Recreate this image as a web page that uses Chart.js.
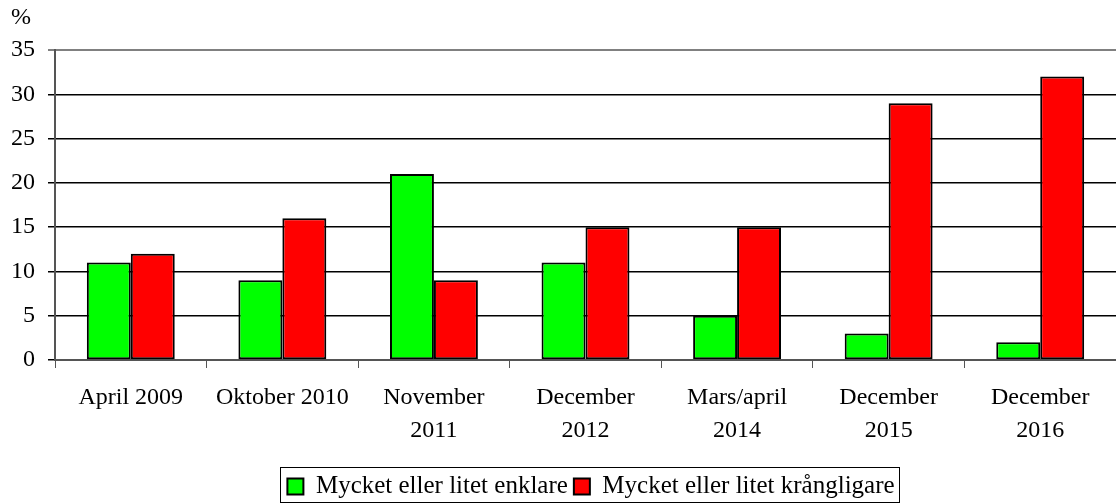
<!DOCTYPE html>
<html>
<head>
<meta charset="utf-8">
<script src="https://cdn.jsdelivr.net/npm/chart.js@4"></script>
<style>
  html, body { margin: 0; padding: 0; background: #fff; }
  #wrap { width: 1116px; height: 503px; position: relative; }
</style>
</head>
<body>
<div id="wrap"><canvas id="chart" width="1116" height="503"></canvas></div>
<script>
// Survey periods
const categories = [
  'April 2009',
  'Oktober 2010',
  ['November', '2011'],
  ['December', '2012'],
  ['Mars/april', '2014'],
  ['December', '2015'],
  ['December', '2016'],
];

// Share of respondents (%)
const simplerValues = [11, 9, 21, 11, 5, 3, 2];
const harderValues = [12, 16, 9, 15, 15, 29, 32];

const yTicks = [0, 5, 10, 15, 20, 25, 30, 35];

const FONT = 'Liberation Serif';

/**
 * Draws the "%" unit above the y axis and a frame around the legend
 */
const extrasPlugin = {
  id: 'extras',
  afterLayout(chart) {
    // legend sits a bit right of centre in the original
    if (chart.legend) {
      chart.legend.left += 33;
      chart.legend.right += 33;
    }
  },
  afterDraw(chart) {
    const { ctx } = chart;
    ctx.save();
    ctx.fillStyle = '#000';
    ctx.font = `24px "${FONT}"`;
    ctx.textAlign = 'center';
    ctx.textBaseline = 'middle';
    ctx.fillText('%', 21, 18);

    // Legend frame
    const boxes = chart.legend.legendHitBoxes;
    if (boxes && boxes.length) {
      const first = boxes[0];
      const last = boxes[boxes.length - 1];
      const left = Math.round(first.left - 7);
      const right = Math.round(last.left + last.width + 4);
      const top = Math.round(first.top - 7);
      ctx.strokeStyle = '#000';
      ctx.lineWidth = 1;
      ctx.strokeRect(left + 0.5, top + 0.5, right - left, chart.height - top - 1);
    }
    ctx.restore();
  },
};

new Chart(document.getElementById('chart'), {
  type: 'bar',
  data: {
    labels: categories,
    datasets: [
      {
        label: 'Mycket eller litet enklare',
        data: simplerValues,
        backgroundColor: '#00FF00',
        borderColor: '#000',
        borderWidth: 2,
        borderSkipped: false,
      },
      {
        label: 'Mycket eller litet krångligare',
        data: harderValues,
        backgroundColor: '#FF0000',
        borderColor: '#000',
        borderWidth: 2,
        borderSkipped: false,
      },
    ],
  },
  options: {
    responsive: false,
    animation: false,
    categoryPercentage: 0.58,
    barPercentage: 1,
    layout: {
      padding: { top: 50, left: 0, right: 0, bottom: -6 },
    },
    plugins: {
      legend: {
        position: 'bottom',
        labels: {
          color: '#000',
          font: { family: FONT, size: 25 },
          boxWidth: 16,
          boxHeight: 16,
          padding: 6,
        },
      },
      tooltip: { enabled: false },
      title: { display: false },
    },
    scales: {
      x: {
        offset: true,
        grid: {
          offset: true,
          drawOnChartArea: false,
          drawTicks: true,
          tickLength: 8,
          color: '#555',
        },
        border: { color: '#555', width: 2 },
        ticks: {
          color: '#000',
          font: { family: FONT, size: 24, lineHeight: 1.375 },
          padding: 13,
          maxRotation: 0,
          autoSkip: false,
        },
        afterFit(scale) {
          scale.height = 108;
        },
      },
      y: {
        min: 0,
        max: 35,
        afterBuildTicks(scale) {
          scale.ticks = yTicks.map((v) => ({ value: v }));
        },
        grid: {
          color: (c) => (c.tick && c.tick.value === 35 ? '#808080' : '#000'),
          lineWidth: (c) => (c.tick && c.tick.value === 35 ? 2 : 1.5),
          tickLength: 7,
        },
        border: { color: '#555', width: 2 },
        ticks: {
          color: '#000',
          font: { family: FONT, size: 24 },
          padding: 13,
        },
        afterFit(scale) {
          scale.width = 55;
        },
      },
    },
  },
  plugins: [extrasPlugin],
});
</script>
</body>
</html>
